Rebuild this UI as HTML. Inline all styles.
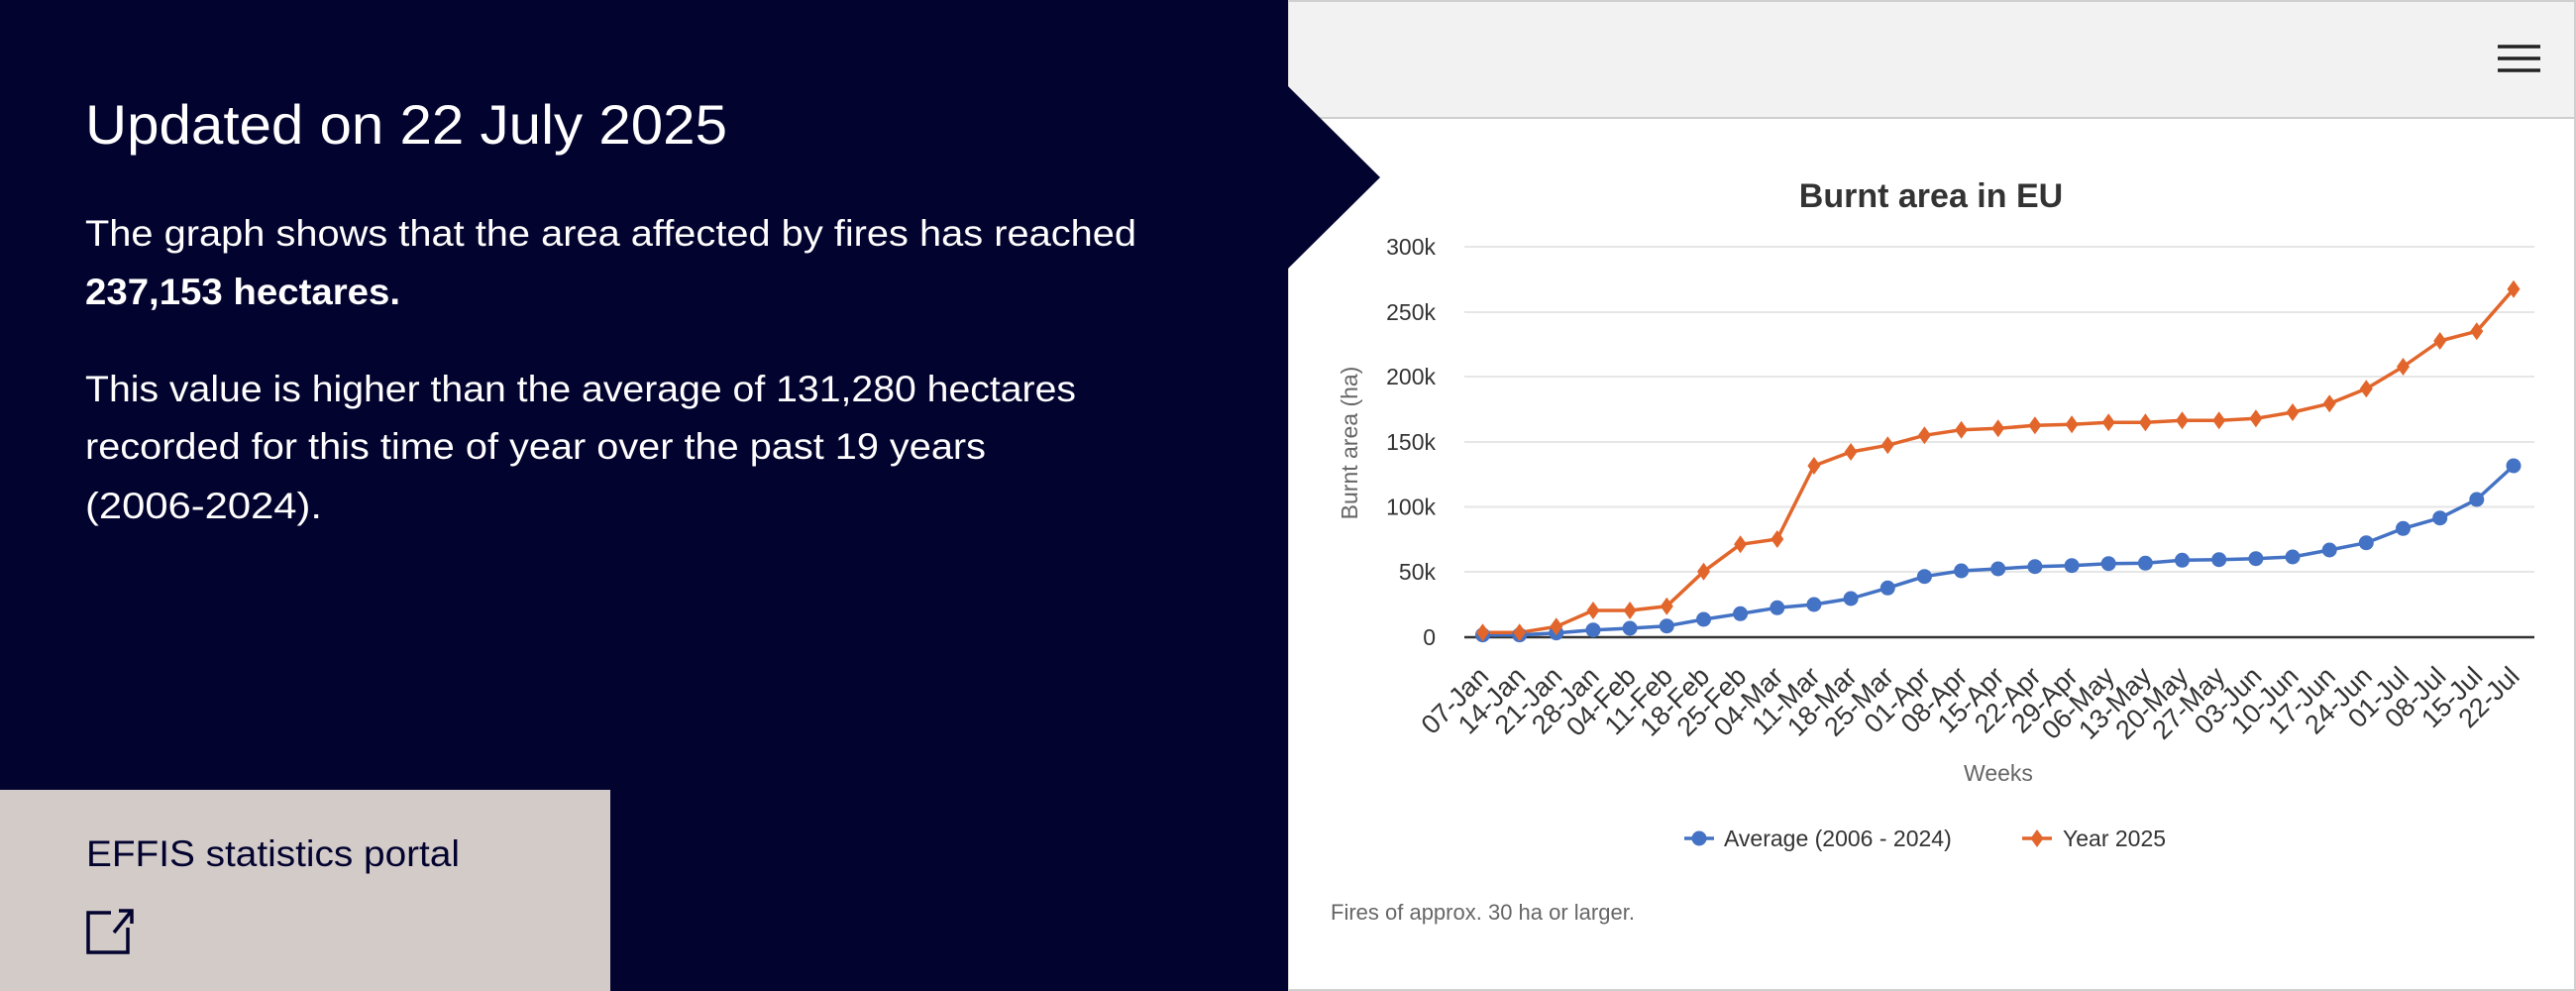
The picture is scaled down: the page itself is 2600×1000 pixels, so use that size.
<!DOCTYPE html>
<html><head><meta charset="utf-8"><style>
html,body{margin:0;padding:0;width:2600px;height:1000px;overflow:hidden;background:#fff}
svg{display:block}
</style></head><body>
<svg width="2600" height="1000" viewBox="0 0 2600 1000" xmlns="http://www.w3.org/2000/svg" font-family="Liberation Sans, Arial, sans-serif">
<defs>
<path id="dm" d="M0,-9 L6.5,0 L0,9 L-6.5,0Z" fill="#e2662b"/>
<circle id="ci" r="7.5" fill="#4472c4"/>
</defs>
<rect x="1300" y="1" width="1299" height="998" fill="#fff" stroke="#cfcfcf" stroke-width="2"/>
<rect x="1301" y="2" width="1297" height="117" fill="#f2f2f2"/>
<line x1="1300" y1="119" x2="2600" y2="119" stroke="#cfcfcf" stroke-width="2"/>
<g stroke="#222" stroke-width="3.5"><line x1="2521" y1="47" x2="2564" y2="47"/><line x1="2521" y1="59" x2="2564" y2="59"/><line x1="2521" y1="71" x2="2564" y2="71"/></g>
<rect x="0" y="0" width="1300" height="1000" fill="#03032f"/>
<polygon points="1299,86 1393,179 1299,272" fill="#03032f"/>
<rect x="0" y="797" width="616" height="203" fill="#d3cbc8"/>
<g fill="#fff">
<text x="86" y="145" font-size="56" textLength="648" lengthAdjust="spacingAndGlyphs">Updated on 22 July 2025</text>
<text x="86" y="248" font-size="37" textLength="1061" lengthAdjust="spacingAndGlyphs">The graph shows that the area affected by fires has reached</text>
<text x="86" y="307" font-size="37" font-weight="bold" textLength="318" lengthAdjust="spacingAndGlyphs">237,153 hectares.</text>
<text x="86" y="405" font-size="37" textLength="1000" lengthAdjust="spacingAndGlyphs">This value is higher than the average of 131,280 hectares</text>
<text x="86" y="463" font-size="37" textLength="909" lengthAdjust="spacingAndGlyphs">recorded for this time of year over the past 19 years</text>
<text x="86" y="523" font-size="37" textLength="239" lengthAdjust="spacingAndGlyphs">(2006-2024).</text>
</g>
<text x="87" y="874" font-size="37" fill="#03032f" textLength="377" lengthAdjust="spacingAndGlyphs">EFFIS statistics portal</text>
<g fill="none" stroke="#03032f" stroke-width="3.5"><path d="M112,921 H89 V961 H129 V936"/><path d="M115,941 L132,920 M120,919 H133 V932"/></g>
<text x="1949" y="209" font-size="34" font-weight="bold" fill="#333" text-anchor="middle">Burnt area in EU</text>
<g stroke="#e6e6e6" stroke-width="2">
<line x1="1478" y1="249" x2="2558" y2="249"/><line x1="1478" y1="315" x2="2558" y2="315"/><line x1="1478" y1="380" x2="2558" y2="380"/><line x1="1478" y1="446" x2="2558" y2="446"/><line x1="1478" y1="511.5" x2="2558" y2="511.5"/><line x1="1478" y1="577" x2="2558" y2="577"/>
</g>
<line x1="1478" y1="643" x2="2558" y2="643" stroke="#333" stroke-width="2.5"/>
<g font-size="23" fill="#333" text-anchor="end">
<text x="1449" y="257">300k</text><text x="1449" y="323">250k</text><text x="1449" y="388">200k</text><text x="1449" y="454">150k</text><text x="1449" y="519.5">100k</text><text x="1449" y="585">50k</text><text x="1449" y="651">0</text>
</g>
<text transform="translate(1370,447) rotate(-90)" font-size="23" fill="#666" text-anchor="middle">Burnt area (ha)</text>
<polyline fill="none" stroke="#4472c4" stroke-width="3.5" stroke-linejoin="round" points="1496.5,640.7 1533.7,640.7 1570.8,638.7 1608,635.7 1645.1,634 1682.3,631.7 1719.5,625 1756.6,619.3 1793.8,613.3 1830.9,610 1868.1,604 1905.3,593.3 1942.4,581.7 1979.6,576 2016.7,574 2053.9,571.7 2091.1,570.7 2128.2,568.7 2165.4,568.3 2202.5,565.3 2239.7,564.7 2276.9,563.7 2314,562 2351.2,555 2388.3,547.7 2425.5,533.3 2462.7,522.7 2499.8,504 2537,470"/>
<polyline fill="none" stroke="#e2662b" stroke-width="3.5" stroke-linejoin="round" points="1496.5,638.3 1533.7,638.3 1570.8,632.3 1608,616 1645.1,616 1682.3,611.7 1719.5,576.7 1756.6,549.3 1793.8,544 1830.9,470 1868.1,456 1905.3,449.3 1942.4,439.3 1979.6,433.7 2016.7,432.3 2053.9,429.3 2091.1,428.3 2128.2,426.3 2165.4,426.3 2202.5,424.3 2239.7,424.3 2276.9,422.3 2314,416 2351.2,407.3 2388.3,392.3 2425.5,370 2462.7,344 2499.8,334.3 2537,291.7"/>
<g>
<use href="#ci" x="1496.5" y="640.7"/><use href="#ci" x="1533.7" y="640.7"/><use href="#ci" x="1570.8" y="638.7"/><use href="#ci" x="1608" y="635.7"/><use href="#ci" x="1645.1" y="634"/><use href="#ci" x="1682.3" y="631.7"/><use href="#ci" x="1719.5" y="625"/><use href="#ci" x="1756.6" y="619.3"/><use href="#ci" x="1793.8" y="613.3"/><use href="#ci" x="1830.9" y="610"/><use href="#ci" x="1868.1" y="604"/><use href="#ci" x="1905.3" y="593.3"/><use href="#ci" x="1942.4" y="581.7"/><use href="#ci" x="1979.6" y="576"/><use href="#ci" x="2016.7" y="574"/><use href="#ci" x="2053.9" y="571.7"/><use href="#ci" x="2091.1" y="570.7"/><use href="#ci" x="2128.2" y="568.7"/><use href="#ci" x="2165.4" y="568.3"/><use href="#ci" x="2202.5" y="565.3"/><use href="#ci" x="2239.7" y="564.7"/><use href="#ci" x="2276.9" y="563.7"/><use href="#ci" x="2314" y="562"/><use href="#ci" x="2351.2" y="555"/><use href="#ci" x="2388.3" y="547.7"/><use href="#ci" x="2425.5" y="533.3"/><use href="#ci" x="2462.7" y="522.7"/><use href="#ci" x="2499.8" y="504"/><use href="#ci" x="2537" y="470"/>
<use href="#dm" x="1496.5" y="638.3"/><use href="#dm" x="1533.7" y="638.3"/><use href="#dm" x="1570.8" y="632.3"/><use href="#dm" x="1608" y="616"/><use href="#dm" x="1645.1" y="616"/><use href="#dm" x="1682.3" y="611.7"/><use href="#dm" x="1719.5" y="576.7"/><use href="#dm" x="1756.6" y="549.3"/><use href="#dm" x="1793.8" y="544"/><use href="#dm" x="1830.9" y="470"/><use href="#dm" x="1868.1" y="456"/><use href="#dm" x="1905.3" y="449.3"/><use href="#dm" x="1942.4" y="439.3"/><use href="#dm" x="1979.6" y="433.7"/><use href="#dm" x="2016.7" y="432.3"/><use href="#dm" x="2053.9" y="429.3"/><use href="#dm" x="2091.1" y="428.3"/><use href="#dm" x="2128.2" y="426.3"/><use href="#dm" x="2165.4" y="426.3"/><use href="#dm" x="2202.5" y="424.3"/><use href="#dm" x="2239.7" y="424.3"/><use href="#dm" x="2276.9" y="422.3"/><use href="#dm" x="2314" y="416"/><use href="#dm" x="2351.2" y="407.3"/><use href="#dm" x="2388.3" y="392.3"/><use href="#dm" x="2425.5" y="370"/><use href="#dm" x="2462.7" y="344"/><use href="#dm" x="2499.8" y="334.3"/><use href="#dm" x="2537" y="291.7"/>
</g>
<g font-size="27" fill="#333" text-anchor="end">
<text transform="translate(1504,684) rotate(-45)">07-Jan</text>
<text transform="translate(1541.2,684) rotate(-45)">14-Jan</text>
<text transform="translate(1578.3,684) rotate(-45)">21-Jan</text>
<text transform="translate(1615.5,684) rotate(-45)">28-Jan</text>
<text transform="translate(1652.6,684) rotate(-45)">04-Feb</text>
<text transform="translate(1689.8,684) rotate(-45)">11-Feb</text>
<text transform="translate(1727,684) rotate(-45)">18-Feb</text>
<text transform="translate(1764.1,684) rotate(-45)">25-Feb</text>
<text transform="translate(1801.3,684) rotate(-45)">04-Mar</text>
<text transform="translate(1838.4,684) rotate(-45)">11-Mar</text>
<text transform="translate(1875.6,684) rotate(-45)">18-Mar</text>
<text transform="translate(1912.8,684) rotate(-45)">25-Mar</text>
<text transform="translate(1949.9,684) rotate(-45)">01-Apr</text>
<text transform="translate(1987.1,684) rotate(-45)">08-Apr</text>
<text transform="translate(2024.2,684) rotate(-45)">15-Apr</text>
<text transform="translate(2061.4,684) rotate(-45)">22-Apr</text>
<text transform="translate(2098.6,684) rotate(-45)">29-Apr</text>
<text transform="translate(2135.7,684) rotate(-45)">06-May</text>
<text transform="translate(2172.9,684) rotate(-45)">13-May</text>
<text transform="translate(2210,684) rotate(-45)">20-May</text>
<text transform="translate(2247.2,684) rotate(-45)">27-May</text>
<text transform="translate(2284.4,684) rotate(-45)">03-Jun</text>
<text transform="translate(2321.5,684) rotate(-45)">10-Jun</text>
<text transform="translate(2358.7,684) rotate(-45)">17-Jun</text>
<text transform="translate(2395.8,684) rotate(-45)">24-Jun</text>
<text transform="translate(2433,684) rotate(-45)">01-Jul</text>
<text transform="translate(2470.2,684) rotate(-45)">08-Jul</text>
<text transform="translate(2507.3,684) rotate(-45)">15-Jul</text>
<text transform="translate(2544.5,684) rotate(-45)">22-Jul</text>
</g>
<text x="2017" y="788" font-size="23" fill="#666" text-anchor="middle">Weeks</text>
<line x1="1700" y1="846" x2="1730" y2="846" stroke="#4472c4" stroke-width="3.5"/><use href="#ci" x="1715" y="846"/>
<text x="1740" y="854" font-size="23" fill="#333">Average (2006 - 2024)</text>
<line x1="2041" y1="846" x2="2071" y2="846" stroke="#e2662b" stroke-width="3.5"/><use href="#dm" x="2056" y="846"/>
<text x="2082" y="854" font-size="23" fill="#333">Year 2025</text>
<text x="1343" y="928" font-size="22" fill="#666">Fires of approx. 30 ha or larger.</text>
</svg>
</body></html>
